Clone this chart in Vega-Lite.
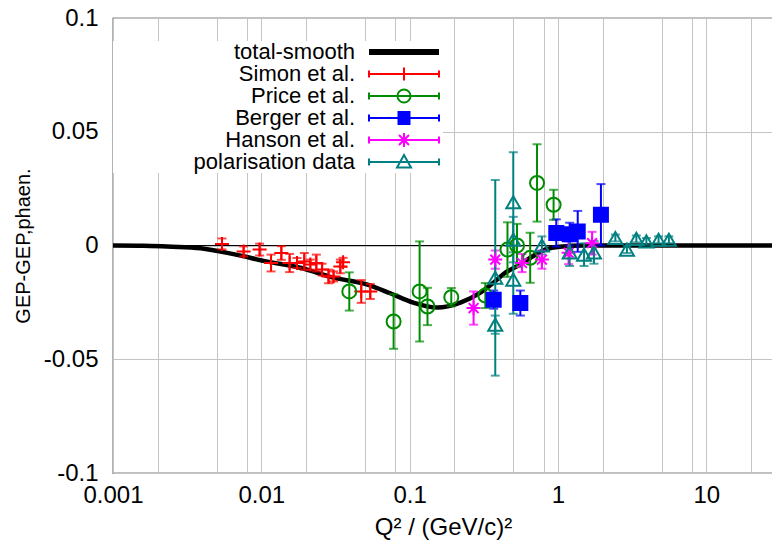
{
  "$schema": "https://vega.github.io/schema/vega-lite/v6.json",
  "width": 660,
  "height": 455,
  "autosize": {"type": "none"},
  "padding": {"left": 113, "top": 18, "right": 0, "bottom": 79},
  "background": "white",
  "config": {
    "font": "Liberation Sans",
    "view": {"stroke": "#000000", "strokeWidth": 1.2},
    "axis": {"labelColor": "#000000", "titleColor": "#000000", "titleFontWeight": "normal", "gridColor": "#c4c4c4", "gridWidth": 1, "gridOpacity": 1, "ticks": false, "domain": false, "labelFontSize": 24, "titleFontSize": 24, "labelFlush": false, "labelOverlap": false},
    "legend": {"orient": "none", "legendX": 0, "legendY": 23, "title": null, "labelFontSize": 22, "labelColor": "#000000", "labelAlign": "right", "labelOffset": -60, "symbolOffset": 280, "symbolSize": 100, "symbolStrokeWidth": 2, "symbolOpacity": 1, "labelLimit": 300, "rowPadding": 0, "padding": 0, "fillColor": "white"}
  },
  "datasets": {
    "curve": [
      {"q2": 0.001, "g": 0}, {"q2": 0.0015, "g": -0.0001}, {"q2": 0.0018, "g": -0.0002}, {"q2": 0.0025, "g": -0.0005},
      {"q2": 0.0039, "g": -0.0012}, {"q2": 0.0065, "g": -0.0038}, {"q2": 0.011, "g": -0.0071}, {"q2": 0.0183, "g": -0.0098},
      {"q2": 0.0306, "g": -0.0141}, {"q2": 0.052, "g": -0.0172}, {"q2": 0.074, "g": -0.021}, {"q2": 0.106, "g": -0.0251},
      {"q2": 0.154, "g": -0.0273}, {"q2": 0.22, "g": -0.0251}, {"q2": 0.3, "g": -0.0207}, {"q2": 0.367, "g": -0.0164},
      {"q2": 0.43, "g": -0.0125}, {"q2": 0.55, "g": -0.0085}, {"q2": 0.652, "g": -0.0054}, {"q2": 0.82, "g": -0.0018},
      {"q2": 1.03, "g": -0.0005}, {"q2": 1.5, "g": 0}, {"q2": 28.2, "g": 0}
    ],
    "pts": [
      {"series": "Simon et al.", "q2": 0.00543, "g": 0.0007, "err": 0.0024},
      {"series": "Simon et al.", "q2": 0.0076, "g": -0.0026, "err": 0.0022},
      {"series": "Simon et al.", "q2": 0.00974, "g": -0.0018, "err": 0.0026},
      {"series": "Simon et al.", "q2": 0.01163, "g": -0.0077, "err": 0.0037},
      {"series": "Simon et al.", "q2": 0.01365, "g": -0.0033, "err": 0.003},
      {"series": "Simon et al.", "q2": 0.01552, "g": -0.0077, "err": 0.004},
      {"series": "Simon et al.", "q2": 0.0174, "g": -0.0077, "err": 0.0022},
      {"series": "Simon et al.", "q2": 0.0195, "g": -0.007, "err": 0.0037},
      {"series": "Simon et al.", "q2": 0.0214, "g": -0.0084, "err": 0.0022},
      {"series": "Simon et al.", "q2": 0.0235, "g": -0.0077, "err": 0.0037},
      {"series": "Simon et al.", "q2": 0.0257, "g": -0.0106, "err": 0.0026},
      {"series": "Simon et al.", "q2": 0.0284, "g": -0.0136, "err": 0.003},
      {"series": "Simon et al.", "q2": 0.0307, "g": -0.0136, "err": 0.0022},
      {"series": "Simon et al.", "q2": 0.0341, "g": -0.0092, "err": 0.003},
      {"series": "Simon et al.", "q2": 0.0356, "g": -0.0074, "err": 0.002},
      {"series": "Simon et al.", "q2": 0.0472, "g": -0.0202, "err": 0.005},
      {"series": "Simon et al.", "q2": 0.0543, "g": -0.0202, "err": 0.0033},
      {"series": "Price et al.", "q2": 0.0392, "g": -0.0202, "err": 0.0084},
      {"series": "Price et al.", "q2": 0.078, "g": -0.0334, "err": 0.012},
      {"series": "Price et al.", "q2": 0.1168, "g": -0.0202, "err": 0.022},
      {"series": "Price et al.", "q2": 0.132, "g": -0.0268, "err": 0.0082},
      {"series": "Price et al.", "q2": 0.191, "g": -0.0227, "err": 0.004},
      {"series": "Price et al.", "q2": 0.324, "g": -0.022, "err": 0.0055},
      {"series": "Price et al.", "q2": 0.457, "g": -0.0018, "err": 0.012},
      {"series": "Price et al.", "q2": 0.53, "g": 0.0, "err": 0.0095},
      {"series": "Price et al.", "q2": 0.65, "g": -0.0054, "err": 0.011},
      {"series": "Price et al.", "q2": 0.723, "g": 0.0275, "err": 0.017},
      {"series": "Price et al.", "q2": 0.935, "g": 0.0179, "err": 0.0066},
      {"series": "Berger et al.", "q2": 0.369, "g": -0.0238, "err": 0.004},
      {"series": "Berger et al.", "q2": 0.558, "g": -0.0253, "err": 0.0055},
      {"series": "Berger et al.", "q2": 0.975, "g": 0.0055, "err": 0.006},
      {"series": "Berger et al.", "q2": 1.2, "g": 0.005, "err": 0.005},
      {"series": "Berger et al.", "q2": 1.36, "g": 0.0062, "err": 0.009},
      {"series": "Berger et al.", "q2": 1.95, "g": 0.0135, "err": 0.0135},
      {"series": "Hanson et al.", "q2": 0.27, "g": -0.0275, "err": 0.0073},
      {"series": "Hanson et al.", "q2": 0.378, "g": -0.0062, "err": 0.004},
      {"series": "Hanson et al.", "q2": 0.573, "g": -0.0077, "err": 0.004},
      {"series": "Hanson et al.", "q2": 0.78, "g": -0.0062, "err": 0.004},
      {"series": "Hanson et al.", "q2": 1.18, "g": -0.0032, "err": 0.005},
      {"series": "Hanson et al.", "q2": 1.7, "g": 0.001, "err": 0.005},
      {"series": "polarisation data", "q2": 0.378, "g": -0.0142, "err": 0.043},
      {"series": "polarisation data", "q2": 0.378, "g": -0.0348, "err": 0.004},
      {"series": "polarisation data", "q2": 0.5, "g": 0.019, "err": 0.022},
      {"series": "polarisation data", "q2": 0.5, "g": 0.0026, "err": 0.01},
      {"series": "polarisation data", "q2": 0.5, "g": -0.015, "err": 0.015},
      {"series": "polarisation data", "q2": 0.78, "g": 0.0, "err": 0.004},
      {"series": "polarisation data", "q2": 1.2, "g": -0.003, "err": 0.006},
      {"series": "polarisation data", "q2": 1.5, "g": -0.004, "err": 0.005},
      {"series": "polarisation data", "q2": 1.75, "g": -0.003, "err": 0.005},
      {"series": "polarisation data", "q2": 2.44, "g": 0.0033, "err": 0.0015},
      {"series": "polarisation data", "q2": 2.92, "g": -0.0018, "err": 0.0015},
      {"series": "polarisation data", "q2": 3.38, "g": 0.0029, "err": 0.0015},
      {"series": "polarisation data", "q2": 3.95, "g": 0.0018, "err": 0.0015},
      {"series": "polarisation data", "q2": 4.77, "g": 0.0025, "err": 0.0015},
      {"series": "polarisation data", "q2": 5.6, "g": 0.0025, "err": 0.0015}
    ],
    "keys": [
      {"series": "total-smooth"}, {"series": "Simon et al."}, {"series": "Price et al."},
      {"series": "Berger et al."}, {"series": "Hanson et al."}, {"series": "polarisation data"}
    ]
  },
  "resolve": {"scale": {"shape": "independent", "color": "independent"}},
  "layer": [
    {
      "data": {"name": "curve"},
      "mark": {"type": "rule", "color": "#000000", "strokeWidth": 1},
      "encoding": {
        "y": {"datum": 0, "type": "quantitative", "title": "GEP-GEP,phaen.", "scale": {"domain": [-0.1, 0.1], "nice": false, "zero": false},
          "axis": {"values": [-0.1, -0.05, 0, 0.05, 0.1], "labelExpr": "replace(datum.label, '\u2212', '-')", "format": "~g", "grid": true, "labelPadding": 15, "titlePadding": 10, "titleFontSize": 20}}
      }
    },
    {
      "data": {"name": "curve"},
      "mark": {"type": "line", "color": "#000000", "strokeWidth": 4.5, "interpolate": "monotone"},
      "encoding": {
        "x": {"field": "q2", "type": "quantitative", "title": "Q² / (GeV/c)²", "scale": {"type": "log", "domain": [0.001, 28.2], "nice": false},
          "axis": {"values": [0.001, 0.002, 0.005, 0.008, 0.01, 0.02, 0.05, 0.08, 0.1, 0.2, 0.5, 0.8, 1, 2, 5, 8, 10, 20], "format": "~g",
            "labelExpr": "abs(log(datum.value)/LN10 - round(log(datum.value)/LN10)) < 0.000001 ? datum.label : ''",
            "grid": true, "labelPadding": 10, "titlePadding": 8}},
        "y": {"field": "g", "type": "quantitative", "title": "GEP-GEP,phaen."}
      }
    },
    {
      "data": {"name": "pts"},
      "mark": {"type": "errorbar", "ticks": true, "size": 9, "thickness": 2},
      "encoding": {
        "x": {"field": "q2", "type": "quantitative", "title": "Q² / (GeV/c)²"},
        "y": {"field": "g", "type": "quantitative", "title": "GEP-GEP,phaen."},
        "yError": {"field": "err"},
        "color": {"field": "series", "type": "nominal", "legend": null,
          "scale": {"domain": ["total-smooth", "Simon et al.", "Price et al.", "Berger et al.", "Hanson et al.", "polarisation data"], "range": ["#000000", "#ff0000", "#008c00", "#0000ff", "#ff00ff", "#008080"]}}
      }
    },
    {
      "data": {"name": "pts"},
      "mark": {"type": "point", "filled": false, "strokeWidth": 2, "size": 196, "opacity": 1},
      "encoding": {
        "x": {"field": "q2", "type": "quantitative", "title": "Q² / (GeV/c)²"},
        "y": {"field": "g", "type": "quantitative", "title": "GEP-GEP,phaen."},
        "color": {"field": "series", "type": "nominal", "legend": null,
          "scale": {"domain": ["total-smooth", "Simon et al.", "Price et al.", "Berger et al.", "Hanson et al.", "polarisation data"], "range": ["#000000", "#ff0000", "#008c00", "#0000ff", "#ff00ff", "#008080"]}},
        "shape": {"field": "series", "type": "nominal", "legend": null,
          "scale": {"domain": ["Simon et al.", "Price et al.", "Berger et al.", "Hanson et al.", "polarisation data"],
            "range": ["M-1,0H1M0,-1V1", "circle", "square", "M-1,0H1M0,-1V1M-0.7,-0.7L0.7,0.7M-0.7,0.7L0.7,-0.7", "triangle-up"]}},
        "fill": {"field": "series", "type": "nominal", "legend": null,
          "scale": {"domain": ["Simon et al.", "Price et al.", "Berger et al.", "Hanson et al.", "polarisation data"],
            "range": ["transparent", "transparent", "#0000ff", "transparent", "transparent"]}}
      }
    },
    {
      "data": {"name": "keys"},
      "mark": {"type": "point", "opacity": 0, "filled": false},
      "encoding": {
        "color": {"field": "series", "type": "nominal",
          "scale": {"domain": ["total-smooth", "Simon et al.", "Price et al.", "Berger et al.", "Hanson et al.", "polarisation data"], "range": ["#000000", "#ff0000", "#008c00", "#0000ff", "#ff00ff", "#008080"]}},
        "shape": {"field": "series", "type": "nominal",
          "scale": {"domain": ["total-smooth", "Simon et al.", "Price et al.", "Berger et al.", "Hanson et al.", "polarisation data"],
            "range": [
              "M-7,-0.4H7M-7,0H7M-7,0.4H7",
              "M-7,0H7M-7,-0.7V0.7M7,-0.7V0.7M0,-1.3V1.3",
              "M-7,0H7M-7,-0.7V0.7M7,-0.7V0.7M1.3,0A1.3,1.3 0 1 1 -1.3,0A1.3,1.3 0 1 1 1.3,0",
              "M-7,0H7M-7,-0.7V0.7M7,-0.7V0.7M-1.3,-1.2H1.3M-1.3,-0.8H1.3M-1.3,-0.4H1.3M-1.3,0.4H1.3M-1.3,0.8H1.3M-1.3,1.2H1.3",
              "M-7,0H7M-7,-0.7V0.7M7,-0.7V0.7M-1.4,0H1.4M0,-1.4V1.4M-1,-1L1,1M-1,1L1,-1",
              "M-7,0H7M-7,-0.7V0.7M7,-0.7V0.7M0,-1.4L1.4,1.1H-1.4Z"
            ]}}
      }
    }
  ]
}
